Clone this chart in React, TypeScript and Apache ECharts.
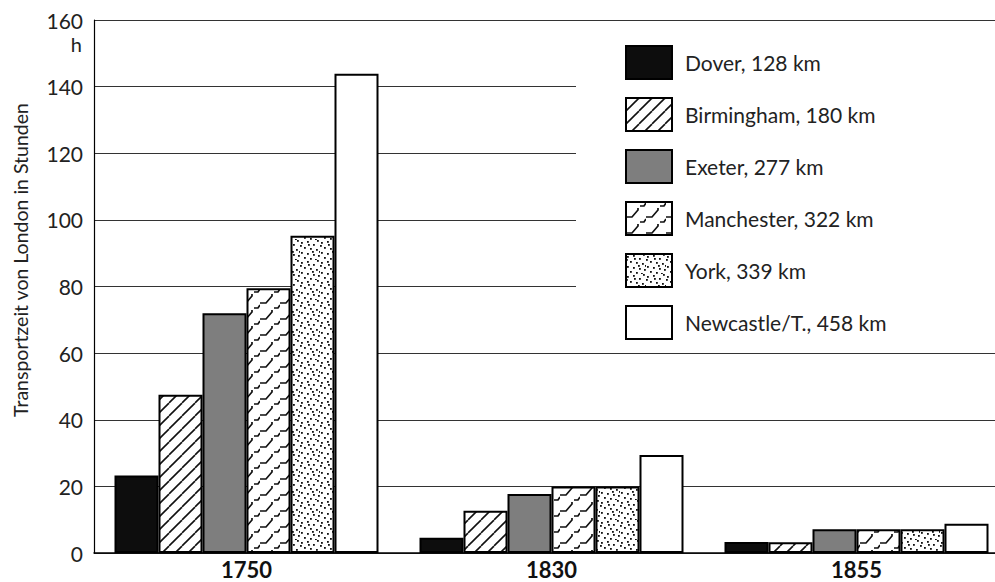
import React, { useEffect, useRef } from "react";
import * as echarts from "echarts";

const categories = ["1750", "1830", "1855"];
const seriesNames = [
  "Dover, 128 km",
  "Birmingham, 180 km",
  "Exeter, 277 km",
  "Manchester, 322 km",
  "York, 339 km",
  "Newcastle/T., 458 km",
];
const dover = [23.3, 4.6, 3.3];
const birmingham = [47.5, 12.7, 3.2];
const exeter = [72, 17.7, 7.1];
const manchester = [79.5, 20, 7.1];
const york = [95.2, 20, 7.1];
const newcastle = [143.9, 29.4, 8.8];
const yMin = 0;
const yMax = 160;
const yStep = 20;
const yUnit = "h";
const yTitle = "Transportzeit von London in Stunden";

const FONT = "Lato, 'Open Sans', sans-serif";

function makeTile(w: number, h: number, draw: (ctx: CanvasRenderingContext2D) => void) {
  const c = document.createElement("canvas");
  c.width = w;
  c.height = h;
  const ctx = c.getContext("2d")!;
  ctx.fillStyle = "#ffffff";
  ctx.fillRect(0, 0, w, h);
  draw(ctx);
  return { image: c.toDataURL(), repeat: "repeat", imageWidth: w, imageHeight: h } as any;
}

function diagonalPattern() {
  const s = 13;
  return makeTile(s, s, (ctx) => {
    ctx.strokeStyle = "#111";
    ctx.lineWidth = 1.6;
    for (const o of [-s, 0, s]) {
      ctx.beginPath();
      ctx.moveTo(o, s);
      ctx.lineTo(o + s, 0);
      ctx.stroke();
    }
  });
}

function stairPattern() {
  const w = 20;
  const h = 16;
  return makeTile(w, h, (ctx) => {
    ctx.strokeStyle = "#111";
    ctx.lineWidth = 1.7;
    for (const o of [-h, 0, h]) {
      ctx.beginPath();
      ctx.moveTo(0, 15 + o);
      ctx.lineTo(6, 15 + o);
      ctx.lineTo(12, 8 + o);
      ctx.lineTo(12, 6 + o);
      ctx.moveTo(14, 4 + o);
      ctx.lineTo(18, 4 + o);
      ctx.lineTo(20, 1 + o);
      ctx.stroke();
    }
  });
}

function dotPattern() {
  const s = 20;
  const pts = [
    [1, 2], [7, 1], [13, 4], [17, 0], [4, 7], [10, 8], [16, 9],
    [1, 12], [7, 13], [13, 14], [18, 15], [4, 17], [10, 18], [15, 19],
    [0, 5], [19, 11], [8, 4], [12, 11],
  ];
  return makeTile(s, s, (ctx) => {
    ctx.fillStyle = "#111";
    for (const [x, y] of pts) ctx.fillRect(x, y, 1.8, 1.8);
  });
}

export default function App() {
  const ref = useRef<HTMLDivElement>(null);

  useEffect(() => {
    if (!ref.current) return;
    const chart = echarts.init(ref.current, undefined, { renderer: "svg" });

    const fills: any[] = ["#0d0d0d", diagonalPattern(), "#7e7e7e", stairPattern(), dotPattern(), "#ffffff"];
    const datasets = [dover, birmingham, exeter, manchester, york, newcastle];

    const series = seriesNames.map((name, i) => ({
      type: "bar",
      name,
      data: datasets[i],
      barWidth: 44,
      barGap: "0%",
      itemStyle: { color: fills[i], borderColor: "#000", borderWidth: 2 },
    }));

    chart.setOption({
      animation: false,
      backgroundColor: "#ffffff",
      grid: { left: 94, top: 20, width: 915, height: 533, outerBoundsMode: "none", containLabel: false },
      xAxis: {
        type: "category",
        data: categories,
        axisTick: { show: false },
        axisLine: { lineStyle: { color: "#000", width: 1.5 } },
        axisLabel: { fontSize: 22, lineHeight: 22, fontWeight: "bold", color: "#111", fontFamily: FONT, margin: 5 },
      },
      yAxis: {
        type: "value",
        min: yMin,
        max: yMax,
        interval: yStep,
        axisLine: { show: true, lineStyle: { color: "#000", width: 1.2 } },
        axisTick: { show: false },
        axisLabel: { fontSize: 21, color: "#222", fontFamily: FONT, margin: 11 },
        splitLine: { lineStyle: { color: "#333", width: 1 } },
      },
      legend: {
        orient: "vertical",
        left: 576,
        top: 35,
        padding: [10, 130, 10, 49],
        itemWidth: 46,
        itemHeight: 33,
        itemGap: 17,
        icon: "rect",
        backgroundColor: "#ffffff",
        selectedMode: false,
        itemStyle: { borderColor: "#000", borderWidth: 2 },
        textStyle: { fontSize: 21, color: "#222", fontFamily: FONT, padding: [0, 0, 0, 8] },
      },
      graphic: [
        {
          type: "text",
          x: 82,
          y: 44,
          style: { text: yUnit, fontSize: 20, fill: "#222", fontFamily: FONT, align: "right", verticalAlign: "middle" },
        },
        {
          type: "text",
          x: 20,
          y: 260,
          rotation: Math.PI / 2,
          style: { text: yTitle, fontSize: 19.5, fill: "#222", fontFamily: FONT, align: "center", verticalAlign: "middle" },
        },
      ],
      series,
    });

    return () => chart.dispose();
  }, []);

  return <div ref={ref} style={{ width: 995, height: 582, position: "absolute", left: 0, top: 0 }} />;
}
